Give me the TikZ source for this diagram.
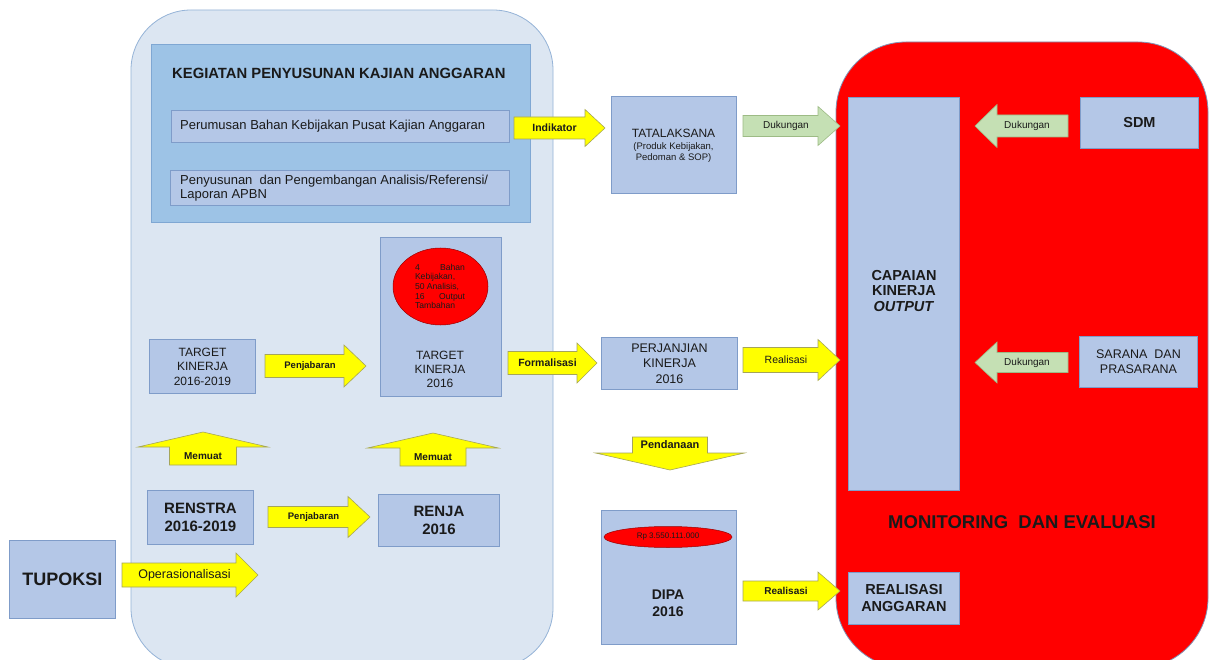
\documentclass[tikz,border=0pt]{standalone}
\usepackage{fontspec}
\setmainfont{Liberation Sans}
\usetikzlibrary{shapes.geometric}
\definecolor{boxfill}{HTML}{B4C7E7}
\definecolor{boxdraw}{HTML}{7F9CC9}
\definecolor{bgblue}{HTML}{DCE6F2}
\definecolor{bgdraw}{HTML}{95B3D7}
\definecolor{kegfill}{HTML}{9DC3E6}
\definecolor{kegdraw}{HTML}{7FA7D3}
\definecolor{yfill}{HTML}{FFFF00}
\definecolor{ydraw}{HTML}{A5A55A}
\definecolor{gfill}{HTML}{C5E0B4}
\definecolor{gdraw}{HTML}{9DBB85}
\definecolor{bigred}{HTML}{FF0000}
\definecolor{reddraw}{HTML}{8096B8}
\definecolor{txt}{HTML}{1A1A1A}
\newcommand\setfs[2]{\fontsize{#1}{#2}\selectfont}
% right-pointing block arrow
\newcommand\arrR[9]{%
 \draw[#1] ({#2},{#4-#5}) -- ({#3-#7},{#4-#5}) -- ({#3-#7},{#4-#6}) -- ({#3},{#4}) -- ({#3-#7},{#4+#6}) -- ({#3-#7},{#4+#5}) -- ({#2},{#4+#5}) -- cycle;
 \node[lbl] (#8) at ({(#2+#3)/2-#7/4},{#4}) {#9};}
% left-pointing block arrow (tip at #2)
\newcommand\arrL[9]{%
 \draw[#1] ({#3},{#4-#5}) -- ({#2+#7},{#4-#5}) -- ({#2+#7},{#4-#6}) -- ({#2},{#4}) -- ({#2+#7},{#4+#6}) -- ({#2+#7},{#4+#5}) -- ({#3},{#4+#5}) -- cycle;
 \node[lbl] (#8) at ({(#2+#3)/2+#7/4},{#4}) {#9};}
% up-pointing block arrow
\newcommand\arrU[9]{%
 \draw[#1] ({#2-#5},{#3}) -- ({#2-#5},{#4+#7}) -- ({#2-#6},{#4+#7}) -- ({#2},{#4}) -- ({#2+#6},{#4+#7}) -- ({#2+#5},{#4+#7}) -- ({#2+#5},{#3}) -- cycle;
 \node[lbl] (#8) at ({#2},{(#3+#4+#7)/2}) {#9};}
% down-pointing block arrow
\newcommand\arrD[9]{%
 \draw[#1] ({#2-#5},{#3}) -- ({#2-#5},{#4-#7}) -- ({#2-#6},{#4-#7}) -- ({#2},{#4}) -- ({#2+#6},{#4-#7}) -- ({#2+#5},{#4-#7}) -- ({#2+#5},{#3}) -- cycle;
 \node[lbl] (#8) at ({#2},{(#3+#4-#7)/2}) {#9};}
\tikzset{
 box/.style={draw=boxdraw, fill=boxfill, line width=0.9pt, inner sep=0pt, anchor=north west, align=center, text=txt},
 plain/.style={inner sep=0pt, align=center, text=txt},
 lbl/.style={inner sep=0pt, align=center, text=txt},
 yarrow/.style={fill=yfill, draw=ydraw, line width=0.6pt},
 garrow/.style={fill=gfill, draw=gdraw, line width=0.6pt},
}
\begin{document}
\begin{tikzpicture}[x=1pt,y=-1pt]
\useasboundingbox (0,0) rectangle (1209,660);
\fill[white] (0,0) rectangle (1209,660);
% big light-blue panel
\draw[fill=bgblue, draw=bgdraw, line width=0.8pt, rounded corners=60pt] (131,10) rectangle (553,668);
% big red panel
\draw[fill=bigred, draw=reddraw, line width=0.8pt, rounded corners=70pt] (836,42) rectangle (1208,668);
% kegiatan panel
\node[box, draw=kegdraw, fill=kegfill, minimum width=379pt, minimum height=178pt] (keg) at (151,44) {};
\node[plain, anchor=west, font=\setfs{14.8}{17}\bfseries] (kegt) at (172,73) {KEGIATAN PENYUSUNAN KAJIAN ANGGARAN};
\node[box, minimum width=338pt, minimum height=32pt] (sub1) at (171,110) {};
\node[plain, anchor=west, font=\setfs{13}{15}] (sub1t) at (180,126.5) {Perumusan Bahan Kebijakan Pusat Kajian Anggaran};
\node[box, minimum width=339pt, minimum height=35pt] (sub2) at (170,170) {};
\node[plain, anchor=west, align=left, font=\setfs{13}{14.5}] (sub2t) at (180,188) {Penyusunan\ \ dan Pengembangan Analisis/Referensi/\\Laporan APBN};
% left column boxes
\node[box, minimum width=106pt, minimum height=78pt, font=\setfs{18}{20}\bfseries] (tupoksi) at (9,540) {TUPOKSI};
\node[box, minimum width=106pt, minimum height=54pt, font=\setfs{15}{17.5}\bfseries] (renstra) at (147,490) {RENSTRA\\2016-2019};
\node[box, minimum width=121pt, minimum height=52pt, font=\setfs{15}{17.5}\bfseries] (renja) at (378,494) {RENJA\\2016};
\node[box, minimum width=106pt, minimum height=54pt, font=\setfs{12}{14.5}] (tk1619) at (149,339) {TARGET\\KINERJA\\2016-2019};
\node[box, minimum width=121pt, minimum height=159pt] (tk16) at (380,237) {};
\node[plain, font=\setfs{12}{14}] (tk16t) at (440,369) {TARGET\\KINERJA\\2016};
\node[ellipse, fill=bigred, draw=red!60!black, line width=0.5pt, minimum width=95pt, minimum height=77pt, inner sep=0pt] (tkell) at (440.5,286.5) {};
\node[plain, align=left] (tkellt) at (440,286.5) {\parbox{50pt}{\setfs{8.6}{9.6}4\hfill Bahan\\Kebijakan,\\50 Analisis,\\16\hfill Output\\Tambahan}};
% middle column
\node[box, minimum width=125pt, minimum height=97pt] (tata) at (611,96) {};
\node[plain, font=\setfs{12}{14}] (tatat) at (673.5,133) {TATALAKSANA};
\node[plain, font=\setfs{9.5}{11}] (tatas) at (673.5,152.5) {(Produk Kebijakan,\\Pedoman \& SOP)};
\node[box, minimum width=136pt, minimum height=52pt, font=\setfs{12.5}{15.5}] (pk) at (601,337) {PERJANJIAN\\KINERJA\\2016};
\node[box, minimum width=135pt, minimum height=134pt] (dipa) at (601,510) {};
\node[ellipse, fill=bigred, draw=red!60!black, line width=0.5pt, minimum width=128pt, minimum height=21pt, inner sep=0pt] (dipaell) at (668,537) {};
\node[plain, font=\setfs{8}{9}] (dipaellt) at (668,537) {Rp 3.550.111.000};
\node[plain, font=\setfs{14}{17}\bfseries] (dipat) at (668,603.5) {DIPA\\2016};
% right panel
\node[box, minimum width=111pt, minimum height=393pt] (cap) at (848,97) {};
\node[plain, font=\setfs{14.5}{15.5}\bfseries] (capt) at (904,291) {CAPAIAN\\KINERJA\\\textit{OUTPUT}};
\node[box, minimum width=118pt, minimum height=51pt, font=\setfs{14.5}{16}\bfseries] (sdm) at (1080,97) {SDM};
\node[box, minimum width=118pt, minimum height=51pt, font=\setfs{12.5}{15}] (sar) at (1079,336) {SARANA\ \ DAN\\PRASARANA};
\node[plain, font=\setfs{18.5}{20}\bfseries] (monev) at (1022,522) {MONITORING\ \ DAN EVALUASI};
\node[box, minimum width=111pt, minimum height=52pt, font=\setfs{14.5}{17}\bfseries] (real) at (848,572) {REALISASI\\ANGGARAN};
% block arrows
\arrR{yarrow}{122}{258}{575}{12}{22}{22}{lop}{\setfs{12.5}{14}Operasionalisasi}
\arrR{yarrow}{265}{366}{366}{11.5}{21}{22}{lpj1}{\setfs{9.5}{11}\bfseries Penjabaran}
\arrR{yarrow}{268}{370}{517}{10.5}{20.5}{22}{lpj2}{\setfs{9.5}{11}\bfseries Penjabaran}
\arrU{yarrow}{203}{465}{432}{33.5}{65}{15}{lmu1}{\setfs{10}{11}\bfseries Memuat}
\arrU{yarrow}{433}{466}{433}{33}{65.5}{15}{lmu2}{\setfs{10}{11}\bfseries Memuat}
\arrR{yarrow}{514}{605}{128}{11}{18.5}{20}{lind}{\setfs{10.5}{12}\bfseries Indikator}
\arrR{yarrow}{508}{597}{363}{11.5}{20}{20}{lfor}{\setfs{10.5}{12}\bfseries Formalisasi}
\arrR{garrow}{743}{840}{126}{10.5}{19.5}{22}{ldk1}{\setfs{10}{11}Dukungan}
\arrR{yarrow}{743}{840}{360}{12.5}{20.5}{22}{lre1}{\setfs{10.5}{12}Realisasi}
\arrR{yarrow}{743}{840}{591}{10}{19}{22}{lre2}{\setfs{10}{11}\bfseries Realisasi}
\arrL{garrow}{975}{1068}{126}{11}{21.5}{22}{ldk2}{\setfs{10}{11}Dukungan}
\arrL{garrow}{975}{1068}{362.5}{10}{20.5}{22}{ldk3}{\setfs{10}{11}Dukungan}
\arrD{yarrow}{670}{437}{470}{37.5}{74.5}{17}{lpd}{\setfs{11}{12}\bfseries Pendanaan}
\end{tikzpicture}
\end{document}
